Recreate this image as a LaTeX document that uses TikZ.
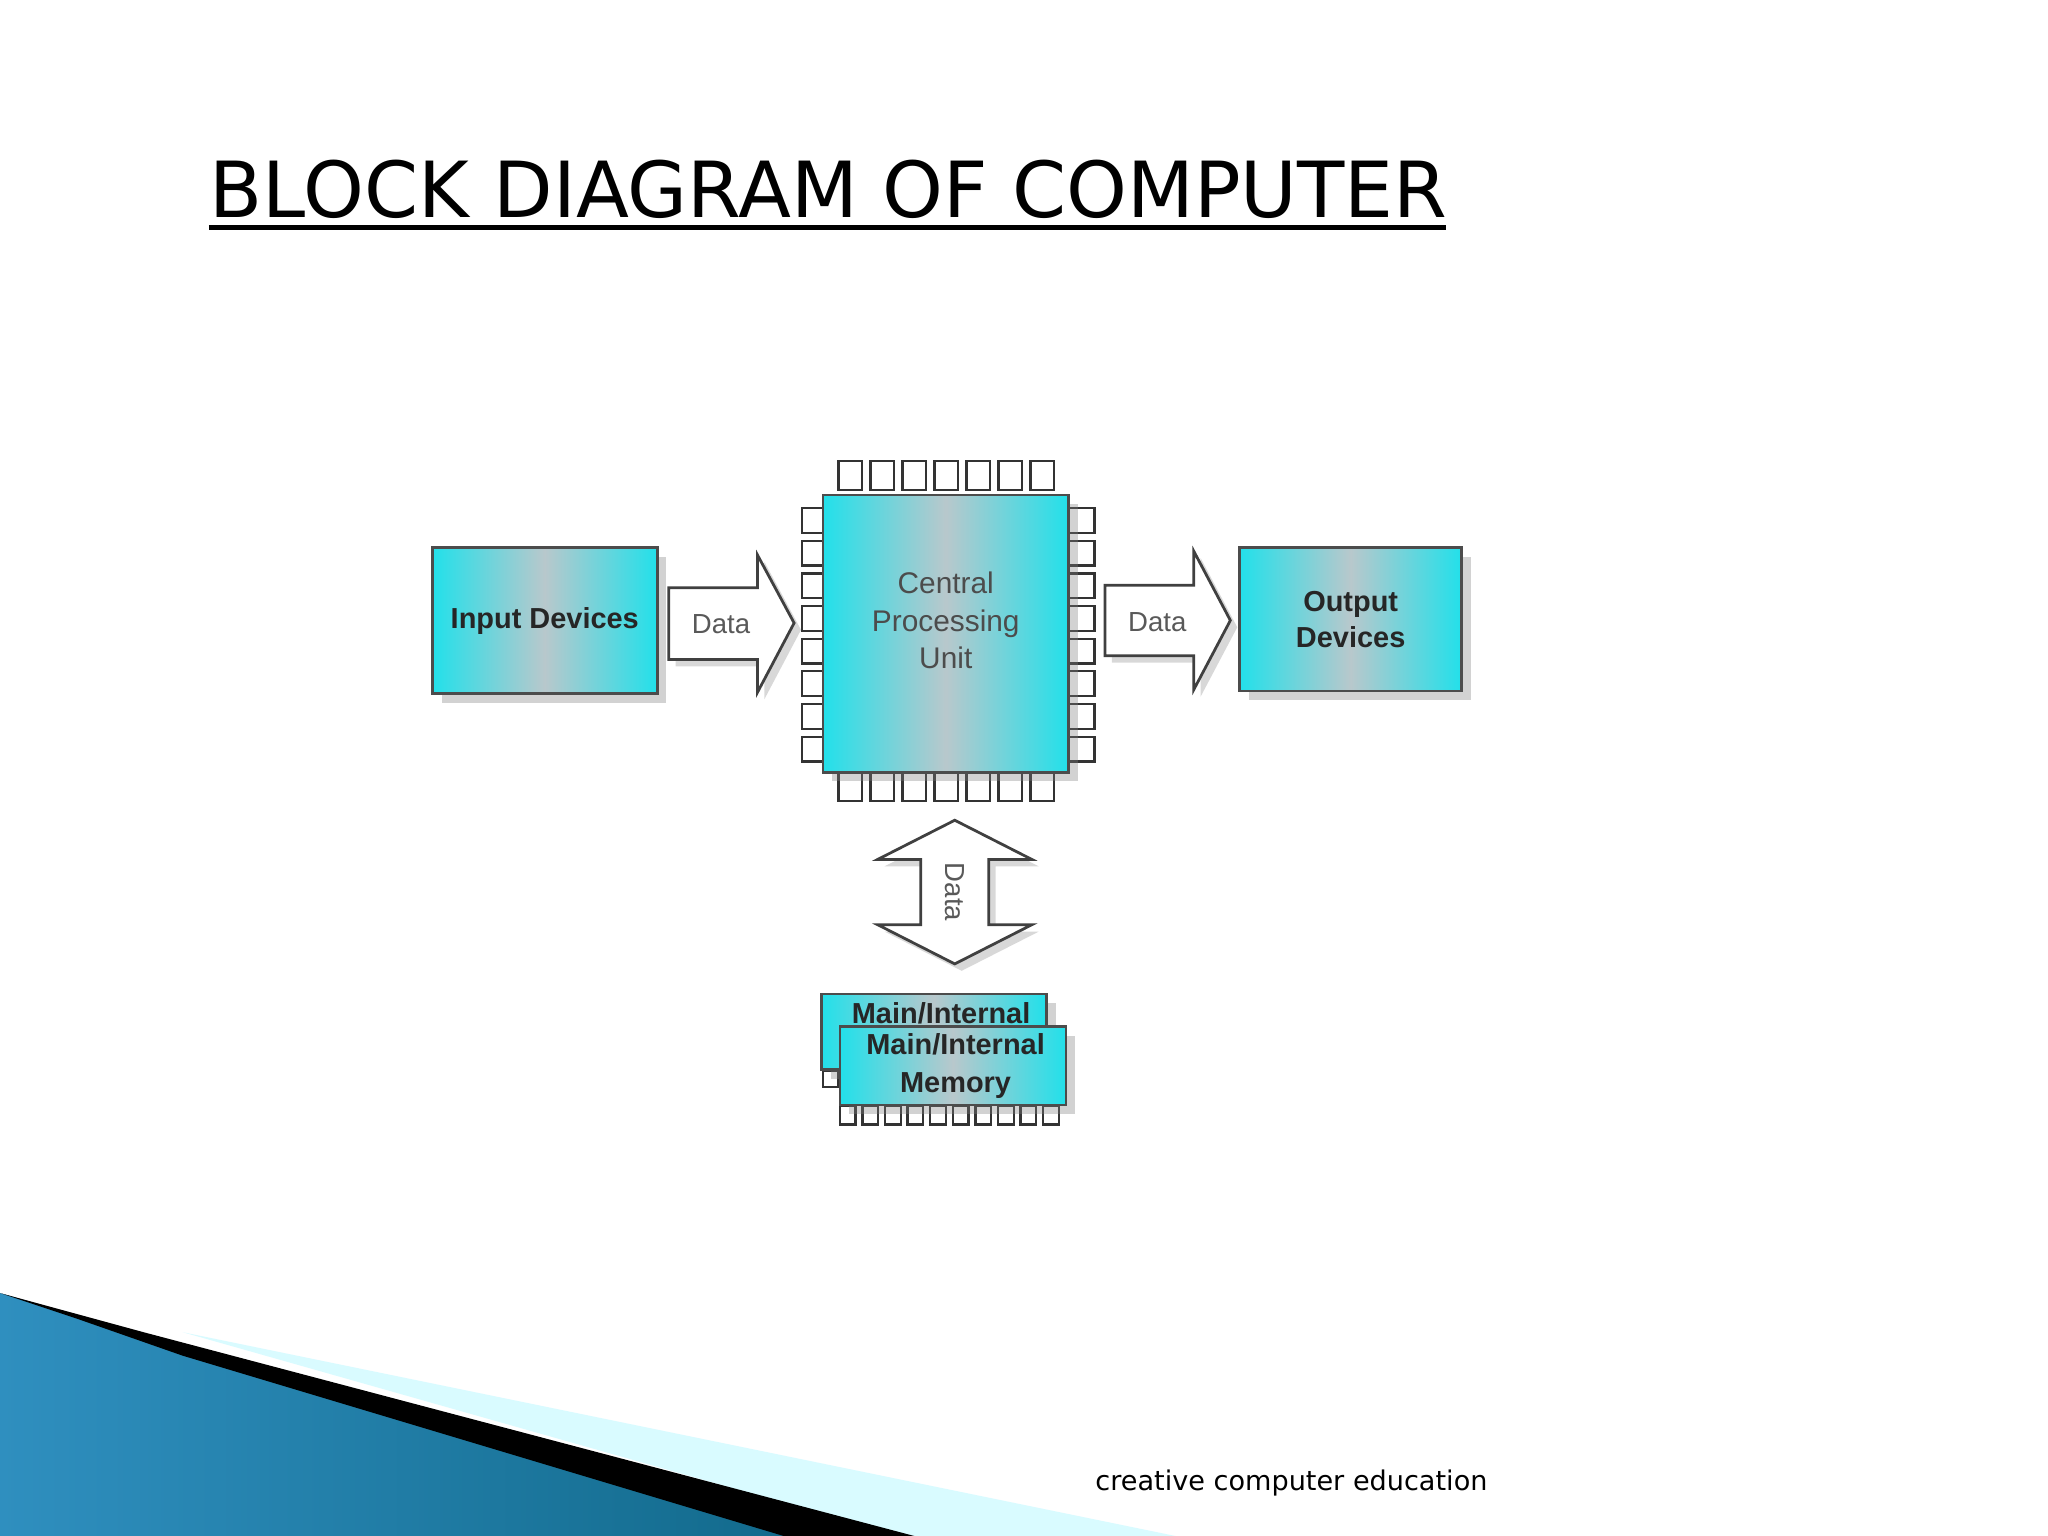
\documentclass[tikz,border=0pt]{standalone}
\usepackage{fontspec}
\setmainfont{DejaVu Sans}
\newfontfamily\boxfont{Liberation Sans}
\usetikzlibrary{shadows}
\definecolor{cy}{HTML}{22E0EA}
\definecolor{cg}{HTML}{B8C8CC}
\definecolor{sw1}{HTML}{2F8FBF}
\definecolor{sw2}{HTML}{5DB8DD}
\definecolor{sw3}{HTML}{0E6585}
\tikzset{
 blk/.style={draw=black!70,line width=0.6pt,left color=cy,right color=cy,middle color=cg,drop shadow={shadow xshift=2pt,shadow yshift=-2pt,opacity=.35}},
 pin/.style={draw=black!80,fill=white,line width=0.5pt},
 arr/.style={draw=black!75,fill=white,line width=0.6pt,drop shadow={shadow xshift=1.5pt,shadow yshift=-1.5pt,opacity=.3}},
 lbl/.style={font=\boxfont\bfseries\fontsize{6.3}{7.8}\selectfont,text=black!85,align=center,inner sep=1pt},
 dlbl/.style={font=\boxfont\fontsize{6}{7.6}\selectfont,text=black!65,inner sep=1pt}
}
\begin{document}
\begin{tikzpicture}[x=0.01cm,y=-0.01cm]
\useasboundingbox (0,0) rectangle (1568,1176);
\fill[white] (0,0) rectangle (1568,1176);
% decoration
\fill[blue!10!cyan!15] (140,1020) -- (900,1176) -- (690,1176) -- cycle;
\shade[left color=sw1,middle color=sw2,right color=sw3] (0,990) -- (110,1022) -- (690,1176) -- (0,1176) -- cycle;
\fill[black] (0,990) -- (110,1020) -- (700,1176) -- (600,1176) -- (140,1038) -- (60,1010) -- cycle;
% title
\node[anchor=south west,inner sep=0] (title) at (160,168) {\resizebox{9.47cm}{!}{BLOCK DIAGRAM OF COMPUTER}};
\draw[line width=1.2pt] (160,174) -- (1107,174);
% input / output
\node[blk,minimum width=1.72cm,minimum height=1.12cm,anchor=north west] (in) at (330,418) {};
\node[lbl] at (in.center) {Input Devices};
\node[blk,minimum width=1.70cm,minimum height=1.10cm,anchor=north west] (out) at (948,418) {};
\node[lbl] at (out.center) {Output\\Devices};
% CPU pins
\foreach \i in {0,...,6} {\draw[pin] (642+\i*24.5,353) rectangle +(18,22); \draw[pin] (642+\i*24.5,591) rectangle +(18,22);}
\foreach \i in {0,...,7} {\draw[pin] (614,389+\i*25) rectangle +(20,19); \draw[pin] (818,389+\i*25) rectangle +(20,19);}
\node[blk,minimum width=1.88cm,minimum height=2.12cm,anchor=north west] (cpu) at (629,378) {};
\node[dlbl,font=\boxfont\fontsize{6.5}{8.2}\selectfont,align=center,text=black!70] at ([yshift=0.1cm]cpu.center) {Central\\Processing\\Unit};
% data arrows
\draw[arr] (512,450) -- (580,450) -- (580,425) -- (608,477) -- (580,530) -- (580,505) -- (512,505) -- cycle;
\node[dlbl] (d1) at (552,478) {Data};
\draw[arr] (846,448) -- (914,448) -- (914,422) -- (942,475) -- (914,528) -- (914,502) -- (846,502) -- cycle;
\node[dlbl] (d2) at (886,476) {Data};
\draw[arr] (731,628) -- (790,658) -- (757,658) -- (757,708) -- (790,708) -- (731,738) -- (672,708) -- (705,708) -- (705,658) -- (672,658) -- cycle;
\node[dlbl,rotate=-90] (d3) at (731,683) {Data};
% memory
\foreach \i in {0,...,9} {\draw[pin] (643+\i*17.3,847) rectangle +(12,14);}
\draw[pin] (630,820) rectangle +(12,12);
\node[blk,minimum width=1.72cm,minimum height=0.58cm,anchor=north west] (mem2) at (628,760) {};
\node[lbl,anchor=north west] at (648,763) {Main/Internal};
\node[blk,minimum width=1.73cm,minimum height=0.60cm,anchor=north west] (mem) at (642,785) {};
\node[lbl,font=\boxfont\bfseries\fontsize{6.3}{8.3}\selectfont] at ([xshift=0.02cm]mem.center) {Main/Internal\\Memory};
% footer
\node[anchor=south west,inner sep=0] (foot) at (838,1146) {\resizebox{3.0cm}{!}{creative computer education}};
\end{tikzpicture}
\end{document}
